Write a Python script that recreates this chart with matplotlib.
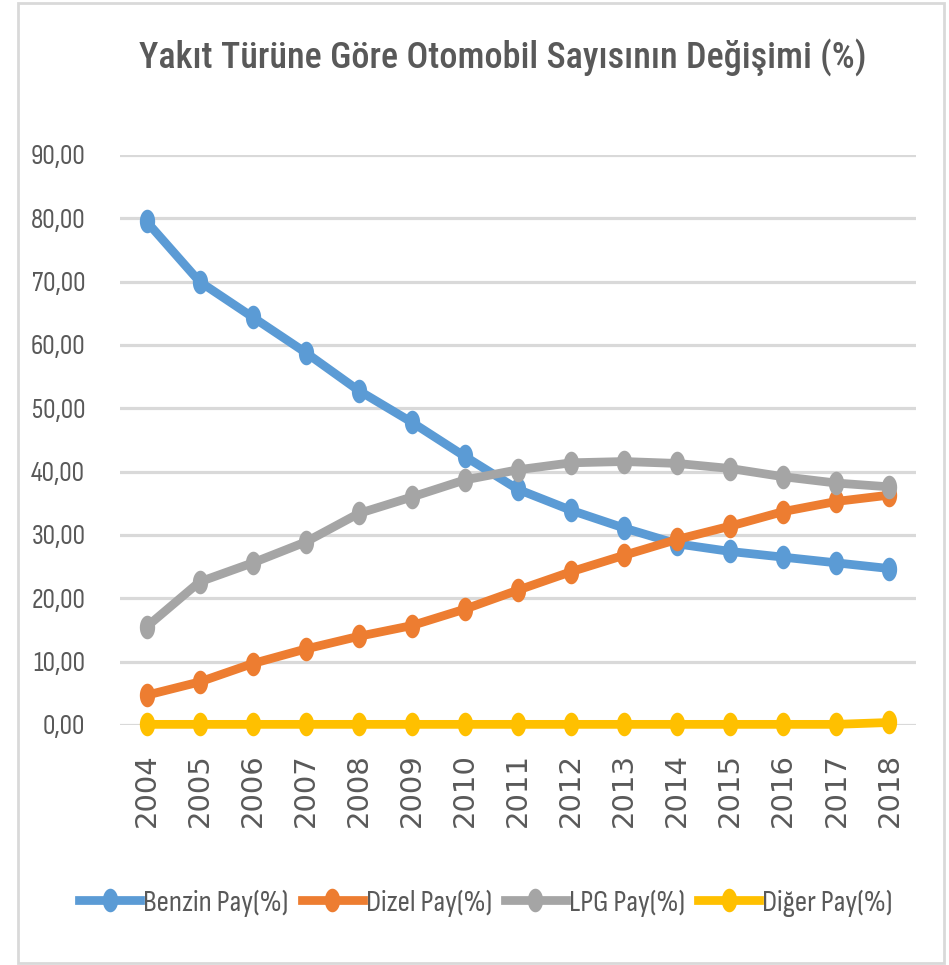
import matplotlib
matplotlib.use("Agg")
import matplotlib.pyplot as plt
import numpy as np
from matplotlib.path import Path
from matplotlib.patches import Rectangle
from matplotlib.lines import Line2D

# ---- data ----
years = ["2004", "2005", "2006", "2007", "2008", "2009", "2010", "2011",
         "2012", "2013", "2014", "2015", "2016", "2017", "2018"]
benzin = [79.5, 70.0, 64.4, 58.8, 52.8, 47.8, 42.4, 37.2, 33.9, 31.1, 28.6, 27.4, 26.5, 25.6, 24.7]
dizel = [4.7, 6.8, 9.7, 12.0, 14.0, 15.7, 18.3, 21.3, 24.2, 26.8, 29.3, 31.4, 33.7, 35.3, 36.3]
lpg = [15.5, 22.6, 25.6, 28.9, 33.4, 36.0, 38.7, 40.3, 41.4, 41.6, 41.3, 40.5, 39.2, 38.2, 37.6]
diger = [0.1, 0.1, 0.1, 0.1, 0.1, 0.1, 0.1, 0.1, 0.1, 0.1, 0.1, 0.1, 0.1, 0.1, 0.4]
series_names = ["Benzin Pay(%)", "Dizel Pay(%)", "LPG Pay(%)", "Diğer Pay(%)"]
yticks = [0, 10, 20, 30, 40, 50, 60, 70, 80, 90]
title = "Yakıt Türüne Göre Otomobil Sayısının Değişimi (%)"

colors = ["#5B9BD5", "#ED7D31", "#A5A5A5", "#FFC000"]
text_color = "#595959"
FONT = ["Sofia Sans Condensed", "Roboto Condensed", "DejaVu Sans"]
TITLE_FONT = ["Roboto Condensed", "Sofia Sans Condensed", "DejaVu Sans"]

W, H = 949, 965
fig = plt.figure(figsize=(W / 100, H / 100), dpi=100)

# outer chart frame
fig.patches.append(Rectangle((18 / W, 2 / H), (944 - 18) / W, (962 - 2) / H,
                             transform=fig.transFigure, fill=False,
                             edgecolor="#D9D9D9", linewidth=2.0))

ax = fig.add_axes([120 / W, 1 - 725 / H, 796 / W, 570 / H])

# squashed ellipse marker
t = np.linspace(0, 2 * np.pi, 41)
ell = Path(np.column_stack([0.65 * np.cos(t), np.sin(t)]), closed=True)

x = np.arange(len(years))
for vals, c in zip([benzin, dizel, lpg, diger], colors):
    ax.plot(x, vals, color=c, linewidth=6.3, marker=ell, markersize=17,
            markeredgewidth=0, solid_capstyle="round", clip_on=False, zorder=3)

ax.set_xlim(-0.5, len(years) - 0.5)
ax.set_ylim(0, 90)
ax.set_yticks(yticks)
ax.set_yticklabels([f"{v:.2f}".replace(".", ",") for v in yticks],
                   family=FONT, fontsize=20, color=text_color)
ax.set_xticks(x)
ax.set_xticklabels(years, rotation=90, family="DejaVu Sans", fontsize=21,
                   color=text_color)
ax.tick_params(axis="y", length=0, pad=25)
ax.tick_params(axis="x", length=0, pad=20)
ax.grid(axis="y", color="#D9D9D9", linewidth=2.3, zorder=0)
ax.set_axisbelow(True)
for s in ax.spines.values():
    s.set_visible(False)

fig.text(503 / W, 1 - 57 / H, title, ha="center", va="center",
         family=TITLE_FONT, fontsize=26, fontweight="medium", color=text_color)

handles = [Line2D([], [], color=c, linewidth=6.3, marker=ell, markersize=17,
                  markeredgewidth=0) for c in colors]
fig.legend(handles, series_names, loc="center", ncol=4,
           bbox_to_anchor=(486 / W, 1 - 903 / H), frameon=False,
           prop={"family": FONT, "size": 22}, labelcolor=text_color,
           handlelength=2.0, handletextpad=0.1, columnspacing=0.42,
           borderpad=0)

fig.savefig("out.png", dpi=100)
